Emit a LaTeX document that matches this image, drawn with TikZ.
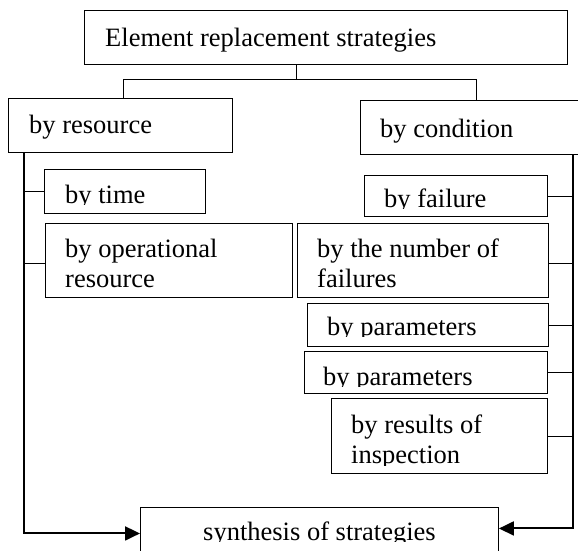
\documentclass[tikz,border=0pt]{standalone}
\usepackage{fontspec}
\setmainfont{Liberation Serif}
\usetikzlibrary{arrows.meta}
\tikzset{
  box/.style={draw, line width=0.9pt, rectangle, inner sep=0pt, anchor=north west},
  txt/.style={anchor=base west, inner sep=0pt, align=left, font=\fontsize{26.5}{30}\selectfont},
  conn/.style={line width=0.9pt},
  trunk/.style={line width=1.2pt},
  arr/.style={line width=2pt, -{Triangle[length=15pt,width=14pt]}}
}
\begin{document}
\begin{tikzpicture}[x=1pt,y=-1pt]
\useasboundingbox (0,0) rectangle (578,550);
\clip (0,0) rectangle (578,550);
% boxes
\node[box, minimum width=483pt, minimum height=54pt] (top) at (84,10) {};
\node[box, minimum width=224pt, minimum height=54pt] (br) at (8,98) {};
\node[box, minimum width=232pt, minimum height=54pt] (bc) at (360,100) {};
\node[box, minimum width=161pt, minimum height=44pt] (bt) at (44,169) {};
\node[box, minimum width=247pt, minimum height=74pt] (bo) at (45,223) {};
\node[box, minimum width=183pt, minimum height=41pt] (bf) at (364,175) {};
\node[box, minimum width=251pt, minimum height=74pt] (bn) at (297,223) {};
\node[box, minimum width=241pt, minimum height=43pt] (bp1) at (307,303) {};
\node[box, minimum width=243pt, minimum height=42pt] (bp2) at (304,351) {};
\node[box, minimum width=216pt, minimum height=75pt] (bi) at (331,398) {};
\node[box, minimum width=358pt, minimum height=52pt] (sy) at (140,507) {};
% texts
\node[txt] (ttop) at (105,46) {Element replacement strategies};
\node[txt] (tbr) at (29,133) {by resource};
\node[txt] (tbc) at (380,137) {by condition};
\node[txt] (tbo) at (65,287) {by operational\\resource};
\node[txt] (tbn) at (317,287) {by the number of\\failures};
\begin{scope}
  \clip (44,169) rectangle (205,204);
  \node[txt] (tbt) at (65,203) {by time};
\end{scope}
\begin{scope}
  \clip (364,175) rectangle (547,208);
  \node[txt] (tbf) at (384,207) {by failure};
\end{scope}
\begin{scope}
  \clip (307,303) rectangle (548,336);
  \node[txt] (tbp1) at (327,335) {by parameters};
\end{scope}
\begin{scope}
  \clip (304,351) rectangle (547,386);
  \node[txt] (tbp2) at (323,385) {by parameters};
\end{scope}
\begin{scope}
  \clip (331,398) rectangle (547,465);
  \node[txt] (tbi) at (351,463) {by results of\\inspection};
\end{scope}
\begin{scope}
  \clip (140,507) rectangle (498,541);
  \node[txt] (tsy) at (203,540) {synthesis of strategies};
\end{scope}
% top connectors
\coordinate (st) at (296,64);
\coordinate (j) at (296,79);
\draw[conn] (st) -- (j);
\draw[conn] (j) -| ([xshift=3pt]br.north);
\draw[conn] (j) -| (bc.north);
% left trunk
\coordinate (lt) at (24,152);
\draw[trunk] (lt) |- (bt.west);
\draw[trunk] (lt) |- ([yshift=-3pt]bo.west);
\draw[arr] (lt) |- (sy.west);
% right trunk
\coordinate (rt) at (573,154);
\draw[conn] (bf.east) -- (bf.east -| rt);
\draw[conn] ([yshift=-3pt]bn.east) -- ([yshift=-3pt]bn.east -| rt);
\draw[conn] (bp1.east) -- (bp1.east -| rt);
\draw[conn] (bp2.east) -- (bp2.east -| rt);
\draw[conn] (bi.east) -- (bi.east -| rt);
\draw[arr] (rt) |- ([yshift=5pt]sy.east);
\end{tikzpicture}
\end{document}
